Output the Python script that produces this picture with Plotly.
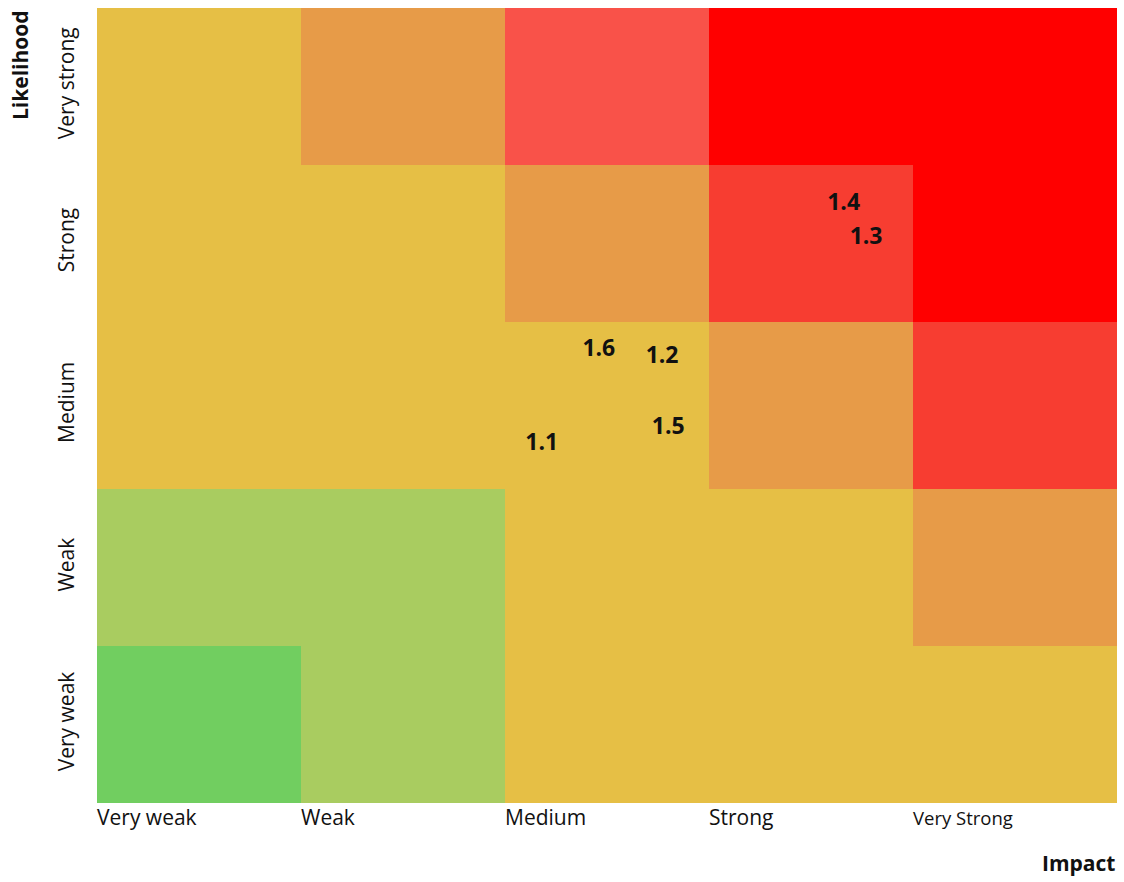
import plotly.graph_objects as go

# Axis categories
impact_labels = ["Very weak", "Weak", "Medium", "Strong", "Very Strong"]
likelihood_labels = ["Very weak", "Weak", "Medium", "Strong", "Very strong"]

# Relative row heights (bottom to top); the "Medium" band is slightly taller
row_heights = [1.0, 1.0, 1.07, 1.0, 1.0]

# Risk level per cell, rows from "Very weak" likelihood (bottom) to "Very strong" (top)
# 0 green, 1 light green, 2 yellow, 3 orange, 4 salmon red, 5 bright red, 6 pure red
risk_levels = [
    [0, 1, 2, 2, 2],
    [1, 1, 2, 2, 3],
    [2, 2, 2, 3, 5],
    [2, 2, 3, 5, 6],
    [2, 3, 4, 6, 6],
]
level_colors = ["#71CE60", "#A9CC60", "#E6BF45", "#E79B48", "#F95249", "#F73D31", "#FF0000"]

# Risk items placed on the matrix (impact, likelihood in grid units)
risk_ids = ["1.4", "1.3", "1.6", "1.2", "1.5", "1.1"]
risk_impact = [3.66, 3.77, 2.46, 2.77, 2.80, 2.18]
risk_likelihood = [3.82, 3.60, 2.89, 2.84, 2.39, 2.29]

n = len(level_colors)
colorscale = []
for i, c in enumerate(level_colors):
    colorscale.append([i / n, c])
    colorscale.append([(i + 1) / n, c])

x_edges = list(range(len(impact_labels) + 1))
y_edges = [0.0]
for h in row_heights:
    y_edges.append(y_edges[-1] + h)
y_centers = [(a + b) / 2 for a, b in zip(y_edges[:-1], y_edges[1:])]

fig = go.Figure()
fig.add_trace(go.Heatmap(
    z=risk_levels,
    x=x_edges,
    y=y_edges,
    zmin=-0.5, zmax=n - 0.5,
    colorscale=colorscale,
    showscale=False,
    hoverinfo="skip",
    xgap=0, ygap=0,
))
fig.add_trace(go.Scatter(
    x=risk_impact, y=risk_likelihood, text=risk_ids,
    mode="text",
    textfont=dict(family="Open Sans", size=23, color="#111111", weight="bold"),
    hoverinfo="text",
    showlegend=False,
))

x_tick_text = impact_labels[:-1] + ['<span style="font-size:18.5px">' + impact_labels[-1] + "</span>"]

fig.update_layout(
    width=1124, height=882,
    margin=dict(l=97, r=7, t=8, b=79),
    paper_bgcolor="white", plot_bgcolor="white",
    font=dict(family="Open Sans", size=21, color="#111111"),
    xaxis=dict(
        range=[x_edges[0], x_edges[-1]],
        tickvals=x_edges[:-1],
        ticktext=x_tick_text,
        ticklabelposition="outside right",
        showgrid=False, zeroline=False, ticks="", showline=False,
        tickfont=dict(size=21),
    ),
    yaxis=dict(
        range=[y_edges[0], y_edges[-1]],
        tickvals=y_centers,
        ticktext=likelihood_labels,
        tickangle=-90,
        ticklabelstandoff=18,
        showgrid=False, zeroline=False, ticks="", showline=False,
        tickfont=dict(size=21),
    ),
    annotations=[
        dict(text="<b>Likelihood</b>", xref="paper", yref="paper", x=-0.0755, y=1.0,
             xanchor="center", yanchor="top", textangle=-90, showarrow=False,
             font=dict(size=21)),
        dict(text="<b>Impact</b>", xref="paper", yref="paper", x=1.0, y=-0.0755,
             xanchor="right", yanchor="middle", showarrow=False,
             font=dict(size=21)),
    ],
)

fig.write_html("out.html")
